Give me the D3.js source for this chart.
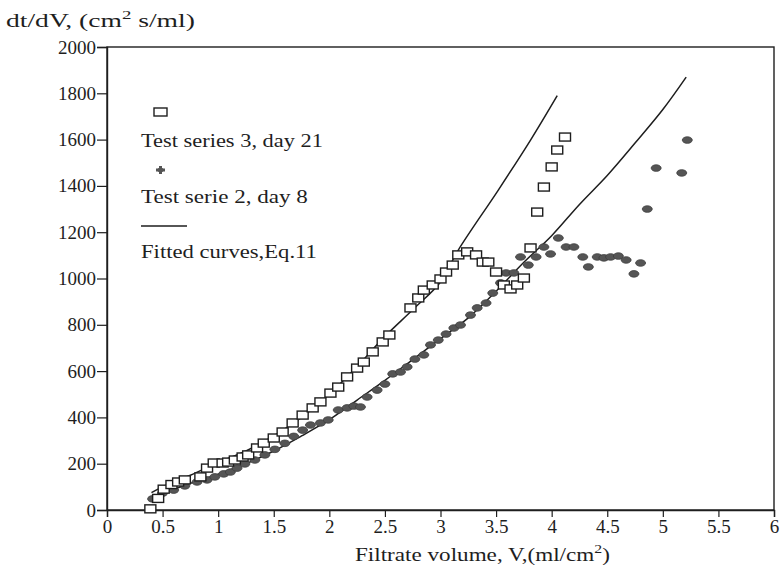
<!DOCTYPE html>
<html><head><meta charset="utf-8">
<script src="https://cdn.jsdelivr.net/npm/d3@7"></script>
<style>
html,body{margin:0;padding:0;background:#fff;}
svg{display:block;}
text{font-family:"Liberation Serif","DejaVu Serif",serif;}
</style></head>
<body><svg id="c" width="784" height="569"></svg>
<script>
// Test series 3, day 21 (open squares)
const s3V   = [0.39,0.46,0.51,0.58,0.64,0.70,0.84,0.90,0.96,1.04,1.09,1.15,1.22,1.27,1.35,1.41,1.50,1.58,1.67,1.76,1.85,1.92,2.01,2.08,2.16,2.25,2.31,2.39,2.48,2.54,2.73,2.80,2.85,2.93,3.00,3.05,3.11,3.16,3.24,3.32,3.38,3.43,3.50,3.57,3.63,3.69,3.75,3.81,3.87,3.93,4.00,4.05,4.12];
const s3Val = [5,50,90,110,121,130,143,181,203,203,207,216,229,238,268,289,311,337,376,410,441,467,505,531,575,613,639,683,726,756,873,916,950,972,998,1028,1058,1102,1115,1102,1071,1071,1028,972,955,972,1002,1132,1287,1395,1482,1555,1611];
// Test serie 2, day 8 (filled dots)
const s2V   = [0.41,0.50,0.60,0.70,0.81,0.90,0.97,1.05,1.11,1.17,1.24,1.33,1.42,1.51,1.60,1.68,1.76,1.83,1.92,1.99,2.08,2.16,2.22,2.28,2.34,2.43,2.50,2.57,2.64,2.70,2.77,2.85,2.91,2.98,3.05,3.12,3.18,3.27,3.33,3.41,3.47,3.54,3.59,3.66,3.72,3.79,3.86,3.93,3.99,4.06,4.13,4.20,4.28,4.33,4.41,4.47,4.53,4.60,4.67,4.74,4.80,4.86,4.94,5.17,5.22];
const s2Val = [48,73,86,104,121,130,143,156,164,181,199,216,238,262,288,318,345,367,376,389,432,441,449,445,488,518,544,588,596,618,652,670,713,734,760,786,799,842,873,894,937,981,1024,1024,1093,1058,1093,1136,1106,1175,1136,1136,1093,1050,1093,1089,1093,1097,1080,1020,1067,1300,1477,1456,1598];
// Fitted curves, Eq.11
const fit3V   = [0.40,0.50,0.75,1.00,1.25,1.50,1.75,2.00,2.25,2.50,2.75,3.00,3.16,3.52,3.81,4.05];
const fit3Val = [75,100,150,205,255,320,400,500,620,750,865,985,1123,1382,1598,1790];
const fit2V   = [0.40,0.50,0.75,1.00,1.25,1.50,1.75,2.00,2.25,2.50,2.75,3.00,3.25,3.50,3.75,4.00,4.25,4.50,4.75,5.00,5.21];
const fit2Val = [45,70,115,155,200,255,320,390,475,560,650,740,830,945,1070,1185,1320,1445,1585,1730,1870];
const xTicks = [0,0.5,1,1.5,2,2.5,3,3.5,4,4.5,5,5.5,6];
const yTicks = [0,200,400,600,800,1000,1200,1400,1600,1800,2000];
const legendLabels = ["Test series 3, day 21","Test serie 2, day 8","Fitted curves,Eq.11"];

const svg = d3.select("#c");
const L=107, T=47, R=774, B=510;
const x = d3.scaleLinear().domain([0,6]).range([L,R]);
const y = d3.scaleLinear().domain([0,2000]).range([B,T]);
const ink = "#1e1e1e";
const serif = '"Liberation Serif","DejaVu Serif",serif';

// stretch a text horizontally to a target width (scan font is wide)
function fitWidth(sel, x0, w){
  const n = sel.node().getComputedTextLength();
  sel.attr("transform",`translate(${x0},0) scale(${w/n},1) translate(${-x0},0)`);
}

// frame
svg.append("rect").attr("x",L).attr("y",T).attr("width",R-L).attr("height",B-T)
  .attr("fill","none").attr("stroke",ink).attr("stroke-width",1.4);

const fmt = d => String(d);
const xa = svg.append("g").attr("transform",`translate(0,${B})`)
  .call(d3.axisBottom(x).tickValues(xTicks).tickFormat(fmt).tickSize(7).tickPadding(3));
const ya = svg.append("g").attr("transform",`translate(${L},0)`)
  .call(d3.axisLeft(y).tickValues(yTicks).tickFormat(fmt).tickSize(10).tickPadding(1));
[xa,ya].forEach(g=>{
  g.attr("font-family",serif).attr("font-size",19);
  g.select(".domain").attr("stroke",ink).attr("stroke-width",1.4);
  g.selectAll(".tick line").attr("stroke",ink).attr("stroke-width",1.2);
  g.selectAll(".tick text").attr("fill",ink);
});

// fitted curves
const line = d3.line().x(d=>x(d[0])).y(d=>y(d[1])).curve(d3.curveCatmullRom);
svg.append("path").datum(d3.zip(fit3V,fit3Val)).attr("d",line)
  .attr("fill","none").attr("stroke",ink).attr("stroke-width",1.5);
svg.append("path").datum(d3.zip(fit2V,fit2Val)).attr("d",line)
  .attr("fill","none").attr("stroke",ink).attr("stroke-width",1.5);

// series 2 dots
svg.append("g").selectAll("ellipse").data(d3.zip(s2V,s2Val)).join("ellipse")
  .attr("cx",d=>x(d[0])).attr("cy",d=>y(d[1])).attr("rx",5).attr("ry",3.3)
  .attr("fill","#555").attr("stroke","#3d3d3d").attr("stroke-width",0.8);
// series 3 squares
svg.append("g").selectAll("rect").data(d3.zip(s3V,s3Val)).join("rect")
  .attr("x",d=>x(d[0])-5.5).attr("y",d=>y(d[1])-4).attr("width",11).attr("height",8)
  .attr("fill","#fff").attr("stroke",ink).attr("stroke-width",1.4);

// legend
const lg = svg.append("g").attr("font-size",19).attr("fill",ink);
lg.append("rect").attr("x",154).attr("y",108).attr("width",13).attr("height",8)
  .attr("fill","#fff").attr("stroke",ink).attr("stroke-width",1.4);
fitWidth(lg.append("text").attr("x",141).attr("y",147).text(legendLabels[0]),141,182);
lg.append("path").attr("d","M156,170h9M160.5,166v8").attr("stroke","#555").attr("stroke-width",3);
lg.append("ellipse").attr("cx",160.5).attr("cy",170).attr("rx",3).attr("ry",2.2).attr("fill","#555");
fitWidth(lg.append("text").attr("x",141).attr("y",203).text(legendLabels[1]),141,167);
lg.append("line").attr("x1",141).attr("x2",187).attr("y1",226).attr("y2",226).attr("stroke",ink).attr("stroke-width",1.5);
fitWidth(lg.append("text").attr("x",141).attr("y",258).text(legendLabels[2]),141,176);

// axis titles
const yt = svg.append("text").attr("x",6).attr("y",27).attr("fill",ink).attr("font-size",19);
yt.append("tspan").text("dt/dV, (cm");
yt.append("tspan").attr("dy",-8).attr("font-size",13).text("2");
yt.append("tspan").attr("dy",8).text(" s/ml)");
fitWidth(yt,6,189);
const xt = svg.append("text").attr("x",355).attr("y",561).attr("fill",ink).attr("font-size",19);
xt.append("tspan").text("Filtrate volume, V,(ml/cm");
xt.append("tspan").attr("dy",-8).attr("font-size",13).text("2");
xt.append("tspan").attr("dy",8).text(")");
fitWidth(xt,355,255);
</script></body></html>
